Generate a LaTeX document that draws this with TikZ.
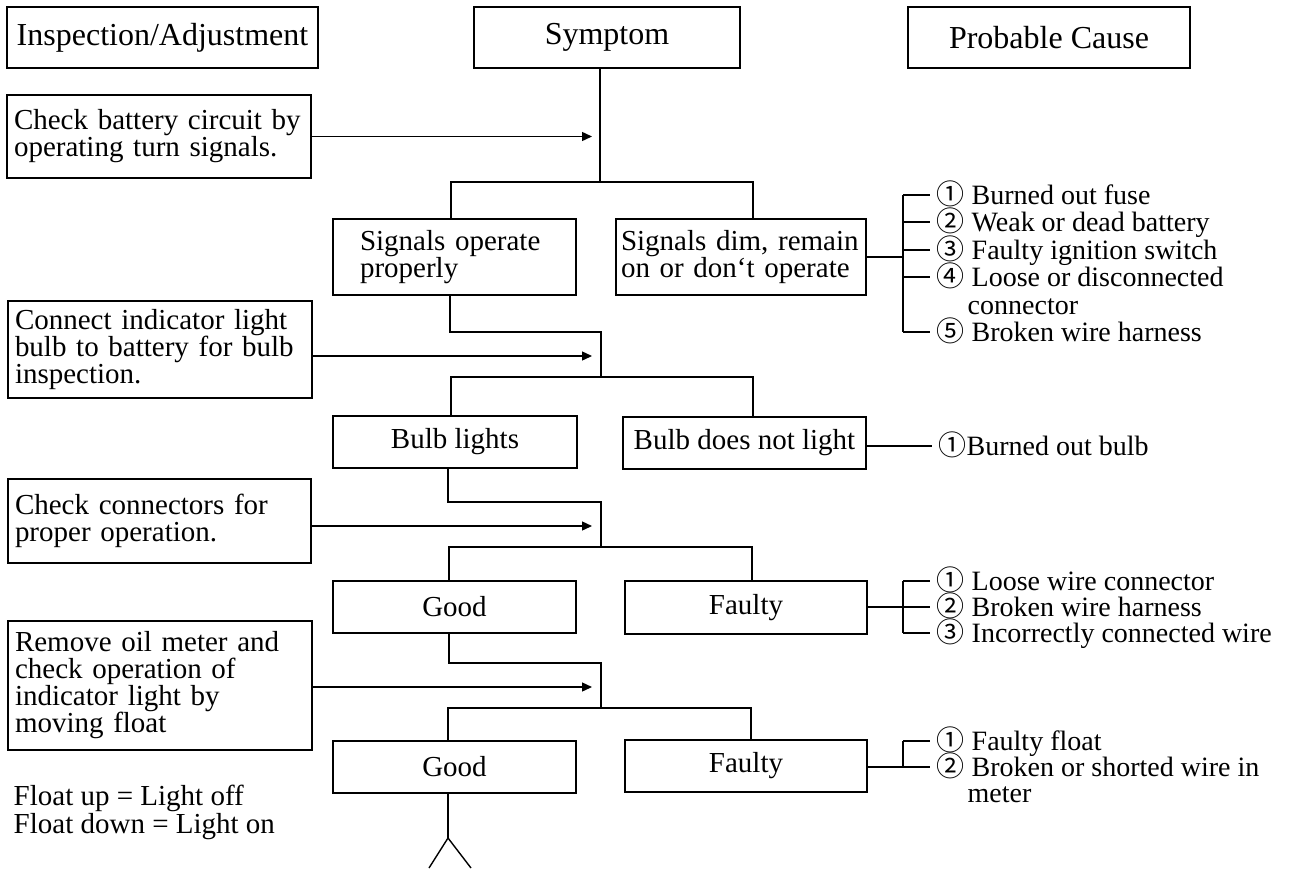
\documentclass[tikz,border=0pt]{standalone}
\usepackage{fontspec}
\setmainfont{Liberation Serif}
\newfontfamily\cjk{Noto Sans CJK JP}
\usetikzlibrary{arrows.meta}
\hyphenpenalty=10000
\exhyphenpenalty=10000
\newcommand{\cnum}[1]{\smash{{\cjk #1}}}
\begin{document}
\begin{tikzpicture}[x=0.5pt,y=-0.5pt, line width=0.7pt,
  every node/.style={font=\fontsize{14.5}{13.5}\selectfont},
  bx/.style={draw, inner sep=0pt, align=center},
  hbx/.style={draw, inner sep=0pt, align=center, font=\fontsize{16}{16}\selectfont},
  lbx/.style={draw, inner xsep=3.5pt, inner ysep=0pt, align=left},
  cause/.style={anchor=base west, inner xsep=3pt, inner ysep=0pt, font=\fontsize{14}{13}\selectfont},
  note/.style={anchor=base west, inner sep=0pt},
  arr/.style={-{Triangle[length=5pt,width=4.5pt]}}]
\fill[white] (0,0) rectangle (1296,868);
\useasboundingbox (0,0) rectangle (1296,868);

% headers
\node[hbx, minimum width=155.5pt, minimum height=30.5pt] (hIns) at (162.5,37.5) {Inspection/Adjustment};
\node[hbx, minimum width=133pt, minimum height=30.5pt] (hSym) at (607,37.5) {Symptom};
\node[hbx, minimum width=141pt, minimum height=30.5pt] (hCause) at (1049,37.5) {Probable Cause};

% inspection boxes
\node[lbx, text width=145pt, minimum height=41.5pt] (b1) at (159,136.5) {Check battery circuit by\\operating turn signals.};
\node[lbx, text width=145pt, minimum height=48.5pt] (b2) at (160,349.5) {Connect indicator light\\bulb to battery for bulb\\inspection.};
\node[lbx, text width=144.5pt, minimum height=42pt] (b3) at (159.5,521) {Check connectors for\\proper operation.};
\node[lbx, text width=145pt, minimum height=64.5pt] (b4) at (160,685.5) {Remove oil meter and\\check operation of\\indicator light by\\moving float};

% symptom boxes
\node[lbx, inner xsep=13.5pt, text width=94.5pt, minimum height=38pt] (sOK) at (454.5,257) {Signals operate\\properly};
\node[lbx, inner xsep=2.5pt, text width=120pt, minimum height=38pt] (sDim) at (741,257) {Signals dim, remain\\on or don‘t operate};
\node[bx, minimum width=122pt, minimum height=26pt] (bOK) at (455,442) {Bulb lights};
\node[bx, minimum width=121.5pt, minimum height=26pt] (bNo) at (744.5,443) {Bulb does not light};
\node[bx, minimum width=121.5pt, minimum height=26pt] (g1) at (454.5,607) {Good};
\node[bx, minimum width=121pt, minimum height=26.5pt] (f1) at (746,607.5) {Faulty};
\node[bx, minimum width=121.5pt, minimum height=26pt] (g2) at (454.5,767) {Good};
\node[bx, minimum width=121pt, minimum height=26pt] (f2) at (746,766) {Faulty};

% float note
\node[note] (fl1) at (13,805) {Float up = Light off};
\node[note] (fl2) at (13,833) {Float down = Light on};

% junction coordinates
\coordinate (j1) at (600,182);
\coordinate (L1) at (451,182); \coordinate (R1) at (753,182);
\coordinate (a1) at (592,136.5);
\coordinate (d1) at (450,332); \coordinate (j2) at (601,332); \coordinate (k2) at (601,377);
\coordinate (L2) at (451,377); \coordinate (R2) at (753,377);
\coordinate (a2) at (592,356);
\coordinate (d2) at (448,502); \coordinate (j3) at (601,502); \coordinate (k3) at (601,547);
\coordinate (L3) at (449,547); \coordinate (R3) at (752,547);
\coordinate (a3) at (592,526);
\coordinate (d3) at (449,663); \coordinate (j4) at (601,663); \coordinate (k4) at (601,708);
\coordinate (L4) at (448,708); \coordinate (R4) at (751,708);
\coordinate (a4) at (592,687);
\coordinate (t0) at (448,838);
\coordinate (tl) at (429,868); \coordinate (tr) at (471,868);

% main flow
\draw (hSym.south -| j1) -- (j1);
\draw (sOK.north -| L1) -- (L1) -- (R1) -- (sDim.north -| R1);
\draw[arr] (b1.east |- a1) -- (a1);

\draw (sOK.south -| d1) -- (d1) -- (j2) -- (k2);
\draw (bOK.north -| L2) -- (L2) -- (R2) -- (bNo.north -| R2);
\draw[arr] (b2.east |- a2) -- (a2);

\draw (bOK.south -| d2) -- (d2) -- (j3) -- (k3);
\draw (g1.north -| L3) -- (L3) -- (R3) -- (f1.north -| R3);
\draw[arr] (b3.east |- a3) -- (a3);

\draw (g1.south -| d3) -- (d3) -- (j4) -- (k4);
\draw (g2.north -| L4) -- (L4) -- (R4) -- (f2.north -| R4);
\draw[arr] (b4.east |- a4) -- (a4);

\draw (g2.south -| t0) -- (t0);
\draw (tl) -- (t0) -- (tr);

% cause list 1
\node[cause] (c11) at (930,204.5) {\cnum{①} Burned out fuse};
\node[cause] (c12) at (930,231.5) {\cnum{②} Weak or dead battery};
\node[cause] (c13) at (930,259.5) {\cnum{③} Faulty ignition switch};
\node[cause] (c14) at (930,286.5) {\cnum{④} Loose or disconnected};
\node[cause] (c14b) at (961,314) {connector};
\node[cause] (c15) at (930,341.5) {\cnum{⑤} Broken wire harness};
\coordinate (m1) at (903,257);
\coordinate (t11) at (903,195); \coordinate (t12) at (903,222);
\coordinate (t13) at (903,250); \coordinate (t14) at (903,277);
\coordinate (t15) at (903,332);
\draw (sDim.east |- m1) -- (m1);
\draw (t11) -- (t15);
\foreach \i in {1,...,5} \draw (t1\i) -- (t1\i -| c1\i.west);

% cause list 2
\node[cause] (c21) at (932,455.5) {\cnum{①}Burned out bulb};
\coordinate (t21) at (903,446);
\draw (bNo.east |- t21) -- (t21 -| c21.west);

% cause list 3
\node[cause] (c31) at (930,590) {\cnum{①} Loose wire connector};
\node[cause] (c32) at (930,616) {\cnum{②} Broken wire harness};
\node[cause] (c33) at (930,642) {\cnum{③} Incorrectly connected wire};
\coordinate (t31) at (903,581); \coordinate (t32) at (903,607); \coordinate (t33) at (903,633);
\draw (f1.east |- t32) -- (t32);
\draw (t31) -- (t33);
\foreach \i in {1,2,3} \draw (t3\i) -- (t3\i -| c3\i.west);

% cause list 4
\node[cause] (c41) at (930,750) {\cnum{①} Faulty float};
\node[cause] (c42) at (930,776) {\cnum{②} Broken or shorted wire in};
\node[cause] (c42b) at (961,802) {meter};
\coordinate (t41) at (903,741); \coordinate (t42) at (903,767);
\draw (f2.east |- t42) -- (t42);
\draw (t41) -- (t42);
\foreach \i in {1,2} \draw (t4\i) -- (t4\i -| c4\i.west);
\end{tikzpicture}
\end{document}
